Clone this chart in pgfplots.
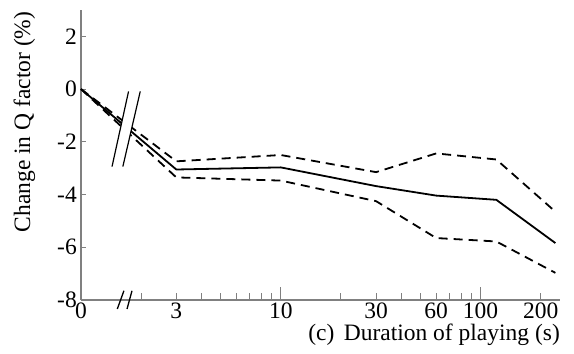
\documentclass[border=0pt]{standalone}
\usepackage{pgfplots}
\pgfplotsset{compat=1.18}
\usepackage{fontspec}
\setmainfont{Liberation Serif}
\begin{document}
\fontsize{23.5bp}{28bp}\selectfont
\begin{tikzpicture}
\begin{semilogxaxis}[
  scale only axis, width=479bp, height=290bp,
  xmin=1, xmax=250, ymin=-8, ymax=3,
  axis lines*=left,
  axis line style={draw=gray, line width=1.5bp},
  xtick={10,100}, xticklabels={10,100},
  minor xtick={2,3,4,5,6,7,8,9,20,30,40,50,60,70,80,90,200},
  extra x ticks={1,3,30,60,200}, extra x tick labels={0,3,30,60,200},
  extra x tick style={major tick length=0pt},
  ytick=\empty,
  extra y ticks={-8,-6,-4,-2,0,2}, extra y tick labels={-8,-6,-4,-2,0,2},
  extra y tick style={major tick length=5bp},
  tick align=inside,
  major tick length=13bp, minor tick length=7bp,
  tick style={draw=gray, line width=1bp},
  clip=false,
  tick label style={font=\fontsize{23.5bp}{28bp}\selectfont, inner sep=4bp},
  xticklabel style={inner sep=2.5bp},
  label style={font=\fontsize{23.5bp}{28bp}\selectfont},
  xlabel={(c)\hspace{0.4em}Duration of playing (s)},
  every axis x label/.style={at={(axis description cs:1,-0.14)}, anchor=base east, inner sep=0pt},
  ylabel={Change in Q factor (\%)},
  every axis y label/.style={at={(axis description cs:-0.118,0.614)}, rotate=90, anchor=center},
]
\addplot[black, line width=1.8bp, dash pattern=on 9bp off 6bp] coordinates {(1,0) (3,-2.74) (10,-2.5) (30,-3.15) (60,-2.44) (120,-2.67) (237,-4.65)};
\addplot[black, line width=1.8bp, dash pattern=on 9bp off 6bp] coordinates {(1,0) (3,-3.35) (10,-3.47) (30,-4.25) (60,-5.65) (120,-5.78) (237,-6.97)};
\addplot[black, line width=1.8bp] coordinates {(1,0) (3,-3.05) (10,-2.97) (30,-3.68) (60,-4.04) (120,-4.2) (237,-5.84)};
\fill[white] (axis cs:1.73,-0.088) -- (axis cs:1.98,-0.088) -- (axis cs:1.62,-2.94) -- (axis cs:1.43,-2.94) -- cycle;
\draw[black, line width=1.2bp] (axis cs:1.73,-0.088) -- (axis cs:1.43,-2.94);
\draw[black, line width=1.2bp] (axis cs:1.98,-0.088) -- (axis cs:1.62,-2.94);
\draw[black, line width=1.3bp] (axis cs:1.52,-8.34) -- (axis cs:1.64,-7.65);
\draw[black, line width=1.3bp] (axis cs:1.70,-8.34) -- (axis cs:1.80,-7.65);
\end{semilogxaxis}
\path (current axis.south west) ++(-81bp,-54bp) rectangle ++(574bp,354bp);
\end{tikzpicture}
\end{document}
